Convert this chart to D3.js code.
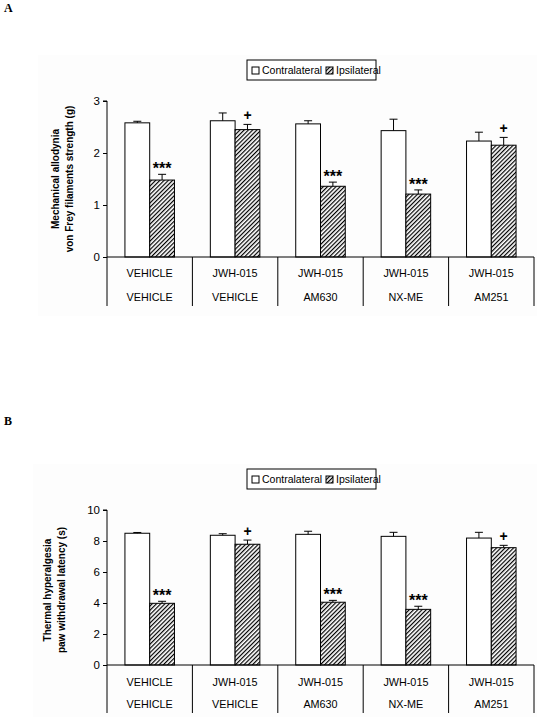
<!DOCTYPE html>
<html><head><meta charset="utf-8">
<script src="https://cdn.jsdelivr.net/npm/d3@7"></script>
<style>body{margin:0;background:#fff}svg{display:block}</style>
</head><body>
<script>
// ---- data ----
const rowTop = ["VEHICLE", "JWH-015", "JWH-015", "JWH-015", "JWH-015"];
const rowBottom = ["VEHICLE", "VEHICLE", "AM630", "NX-ME", "AM251"];
const seriesNames = ["Contralateral", "Ipsilateral"];

const contraA = [2.58, 2.62, 2.56, 2.43, 2.23];
const contraAErr = [0.03, 0.15, 0.06, 0.22, 0.17];
const ipsiA = [1.48, 2.45, 1.36, 1.21, 2.15];
const ipsiAErr = [0.11, 0.10, 0.08, 0.08, 0.15];
const sigA = ["***", "+", "***", "***", "+"];
const ticksA = [0, 1, 2, 3];

const contraB = [8.50, 8.37, 8.43, 8.30, 8.19];
const contraBErr = [0.05, 0.10, 0.20, 0.26, 0.37];
const ipsiB = [3.98, 7.79, 4.05, 3.59, 7.57];
const ipsiBErr = [0.13, 0.27, 0.12, 0.20, 0.15];
const sigB = ["***", "+", "***", "***", "+"];
const ticksB = [0, 2, 4, 6, 8, 10];

const W = 537, H = 717;
const svg = d3.select("body").append("svg").attr("width", W).attr("height", H);

const defs = svg.append("defs");
const pat = defs.append("pattern").attr("id", "hatch").attr("patternUnits", "userSpaceOnUse")
  .attr("width", 3).attr("height", 3).attr("patternTransform", "rotate(45)");
pat.append("rect").attr("width", 3).attr("height", 3).attr("fill", "#fff");
pat.append("line").attr("x1", 0).attr("y1", 0).attr("x2", 0).attr("y2", 3)
  .attr("stroke", "#000").attr("stroke-width", 2.4);

const sans = "Arial, 'Liberation Sans', Helvetica, sans-serif";

function panel(cfg) {
  const g = svg.append("g");
  g.append("rect").attr("x", cfg.bg[0]).attr("y", cfg.bg[1]).attr("width", cfg.bg[2]).attr("height", cfg.bg[3]).attr("fill", "#fdfdfd");
  g.append("text").attr("x", 4).attr("y", cfg.letterY).text(cfg.letter)
    .attr("font-family", "'Liberation Serif', 'Times New Roman', serif").attr("font-weight", "bold").attr("font-size", 12);

  const x = d3.scaleBand().domain(d3.range(rowTop.length)).range([107, 534]).padding(0);
  const xs = d3.scaleBand().domain(seriesNames).range([x.bandwidth() * 0.21, x.bandwidth() * 0.79]).padding(0);
  const y = d3.scaleLinear().domain(cfg.domain).range([cfg.y0, cfg.y1]);

  const data = [];
  rowTop.forEach((c, i) => {
    data.push({ i, s: seriesNames[0], v: cfg.contra[i], e: cfg.contraErr[i] });
    data.push({ i, s: seriesNames[1], v: cfg.ipsi[i], e: cfg.ipsiErr[i] });
  });
  const cx = d => x(d.i) + xs(d.s) + xs.bandwidth() / 2;

  g.selectAll("rect.bar").data(data).join("rect").attr("class", "bar")
    .attr("x", d => x(d.i) + xs(d.s)).attr("width", xs.bandwidth())
    .attr("y", d => y(d.v)).attr("height", d => y(0) - y(d.v))
    .attr("fill", d => d.s === seriesNames[0] ? "#fff" : "url(#hatch)")
    .attr("stroke", "#000").attr("stroke-width", 1);

  const eb = g.selectAll("g.err").data(data).join("g").attr("class", "err");
  eb.append("line").attr("x1", cx).attr("x2", cx)
    .attr("y1", d => y(d.v)).attr("y2", d => y(d.v + d.e)).attr("stroke", "#000");
  eb.append("line").attr("x1", d => cx(d) - 4).attr("x2", d => cx(d) + 4)
    .attr("y1", d => y(d.v + d.e)).attr("y2", d => y(d.v + d.e)).attr("stroke", "#000");

  g.selectAll("text.sig").data(data.filter(d => d.s === seriesNames[1])).join("text").attr("class", "sig")
    .attr("x", cx)
    .attr("y", d => y(d.v + d.e) - (cfg.sig[d.i] === "+" ? 4.5 : 0))
    .attr("text-anchor", "middle").attr("font-family", sans).attr("font-weight", "bold")
    .attr("font-size", d => cfg.sig[d.i] === "+" ? 14 : 16).text(d => cfg.sig[d.i]);

  const ax = g.append("g").attr("transform", "translate(107,0)")
    .call(d3.axisLeft(y).tickValues(cfg.ticks).tickSize(4).tickPadding(3).tickFormat(d3.format("d")));
  ax.select(".domain").attr("d", `M-4,${y(cfg.domain[1])}H0V${cfg.tableBottom}`).attr("stroke", "#000").attr("fill", "none");
  ax.selectAll(".tick line").attr("stroke", "#000");
  ax.selectAll(".tick text").attr("font-family", sans).attr("font-size", 11.5).attr("fill", "#000");

  g.append("line").attr("x1", 107).attr("x2", 534).attr("y1", y(0)).attr("y2", y(0)).attr("stroke", "#000");
  g.selectAll("line.sep").data(d3.range(1, rowTop.length + 1)).join("line").attr("class", "sep")
    .attr("x1", i => x(i - 1) + x.bandwidth()).attr("x2", i => x(i - 1) + x.bandwidth())
    .attr("y1", y(0)).attr("y2", cfg.tableBottom).attr("stroke", "#000");

  g.selectAll("text.r1").data(rowTop).join("text").attr("class", "r1")
    .attr("x", (d, i) => x(i) + x.bandwidth() / 2).attr("y", cfg.row1).attr("dy", "0.35em")
    .attr("text-anchor", "middle").attr("font-family", sans).attr("font-size", 10.8).text(d => d);
  g.selectAll("text.r2").data(rowBottom).join("text").attr("class", "r2")
    .attr("x", (d, i) => x(i) + x.bandwidth() / 2).attr("y", cfg.row2).attr("dy", "0.35em")
    .attr("text-anchor", "middle").attr("font-family", sans).attr("font-size", 10.8).text(d => d);

  const t = g.append("text").attr("transform", `translate(${cfg.titleX},${cfg.titleY}) rotate(-90)`)
    .attr("text-anchor", "middle").attr("font-family", sans).attr("font-weight", "bold").attr("font-size", 10);
  t.append("tspan").attr("x", 0).attr("y", 0).text(cfg.title[0]);
  t.append("tspan").attr("x", 0).attr("y", 14).text(cfg.title[1]);

  const L = g.append("g").attr("transform", `translate(247,${cfg.legY})`);
  L.append("rect").attr("width", 129).attr("height", 20).attr("fill", "#fff").attr("stroke", "#000");
  L.append("rect").attr("x", 5).attr("y", 7).attr("width", 7).attr("height", 7).attr("fill", "#fff").attr("stroke", "#000");
  L.append("text").attr("x", 15).attr("y", 14).attr("font-family", sans).attr("font-size", 10.5).text(seriesNames[0]);
  L.append("rect").attr("x", 79).attr("y", 7).attr("width", 7).attr("height", 7).attr("fill", "url(#hatch)").attr("stroke", "#000");
  L.append("text").attr("x", 89).attr("y", 14).attr("font-family", sans).attr("font-size", 10.5).text(seriesNames[1]);
}

panel({
  letter: "A", letterY: 12, bg: [38, 55, 499, 261],
  domain: [0, 3], y0: 257, y1: 101, ticks: ticksA,
  contra: contraA, contraErr: contraAErr, ipsi: ipsiA, ipsiErr: ipsiAErr, sig: sigA,
  tableBottom: 306, row1: 273, row2: 297,
  title: ["Mechanical allodynia", "von Frey filaments strength (g)"], titleX: 59, titleY: 179,
  legY: 60
});
panel({
  letter: "B", letterY: 425, bg: [33, 464, 504, 253],
  domain: [0, 10], y0: 665, y1: 510, ticks: ticksB,
  contra: contraB, contraErr: contraBErr, ipsi: ipsiB, ipsiErr: ipsiBErr, sig: sigB,
  tableBottom: 713, row1: 682, row2: 704,
  title: ["Thermal hyperalgesia", "paw withdrawal latency (s)"], titleX: 51, titleY: 590,
  legY: 469
});
</script>
</body></html>
